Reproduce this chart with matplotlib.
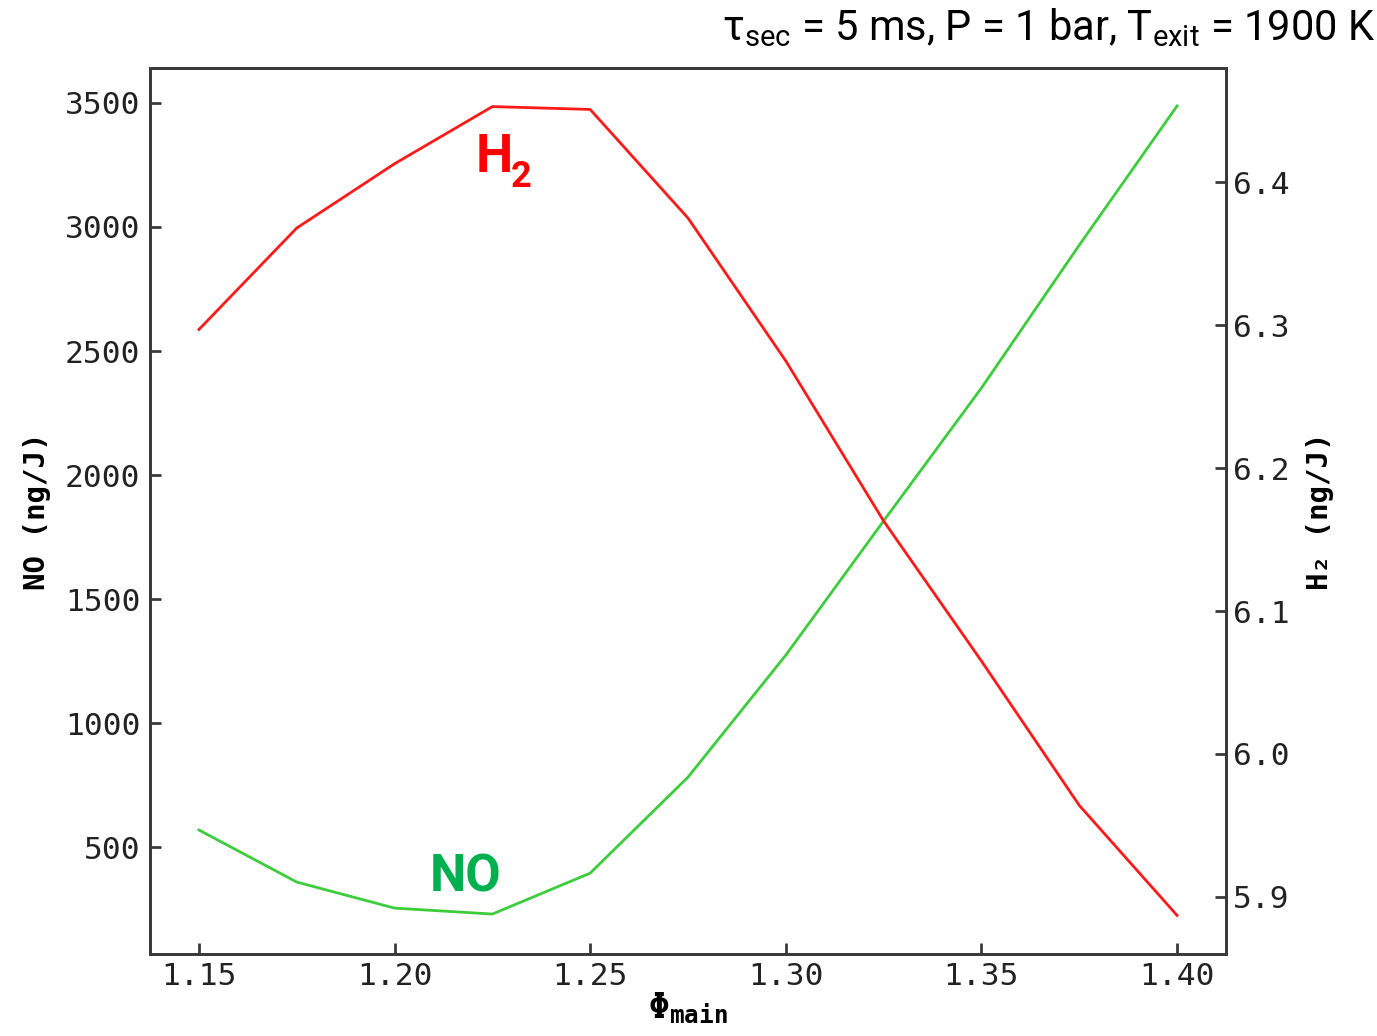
import matplotlib
matplotlib.use("Agg")
import matplotlib.pyplot as plt

# equivalence ratio of the main stage
phi_main = [1.15, 1.175, 1.20, 1.225, 1.25, 1.275, 1.30, 1.325, 1.35, 1.375, 1.40]
# NO emission index (ng/J), left axis
no_vals = [569, 359, 254, 230, 395, 782, 1274, 1815, 2351, 2927, 3488]
# H2 emission index (ng/J), right axis
h2_vals = [6.297, 6.368, 6.413, 6.453, 6.451, 6.375, 6.275, 6.163, 6.065, 5.964, 5.887]

x_ticks = [1.15, 1.20, 1.25, 1.30, 1.35, 1.40]
x_ticklabels = ["1.15", "1.20", "1.25", "1.30", "1.35", "1.40"]
no_ticks = [500, 1000, 1500, 2000, 2500, 3000, 3500]
h2_ticks = [5.9, 6.0, 6.1, 6.2, 6.3, 6.4]

plt.rcParams["mathtext.fontset"] = "custom"
plt.rcParams["mathtext.rm"] = "Roboto"
plt.rcParams["mathtext.it"] = "Roboto"
plt.rcParams["mathtext.bf"] = "Roboto:bold"
plt.rcParams["mathtext.tt"] = "DejaVu Sans Mono:bold"

mono = "DejaVu Sans Mono"
spine_col = "#3a3a3a"
red = "#ff1a1a"
green = "#3ccc3c"

fig = plt.figure(figsize=(13.77, 10.36), dpi=100)
ax = fig.add_axes([150 / 1377, 1 - 954 / 1036, (1226 - 150) / 1377, (954 - 68) / 1036])
ax2 = ax.twinx()

ax.plot(phi_main, no_vals, color=green, lw=2.0)
ax2.plot(phi_main, h2_vals, color=red, lw=2.0)

ax.set_xlim(1.1375, 1.4125)
ax.set_xticks(x_ticks)
ax.set_xticklabels(x_ticklabels)
ax.set_yticks(no_ticks)
ax2.set_yticks(h2_ticks)
ax.set_ylim(69, 3641)
ax2.set_ylim(5.860, 6.480)

for a in (ax, ax2):
    for s in a.spines.values():
        s.set_color(spine_col)
        s.set_linewidth(2.0)
    for lab in a.get_xticklabels() + a.get_yticklabels():
        lab.set_family(mono)
        lab.set_fontsize(22.5)
        lab.set_color("#222222")

ax.tick_params(axis="both", direction="in", length=8, width=2, color=spine_col)
ax.tick_params(axis="y", pad=7)
ax.tick_params(axis="x", pad=6)
ax2.tick_params(axis="y", direction="in", length=8, width=2, color=spine_col, pad=5)

ax.set_ylabel("NO (ng/J)", family=mono, fontsize=21, fontweight="bold", labelpad=10)
ax2.set_ylabel("H\u2082 (ng/J)", family=mono, fontsize=21, fontweight="bold", labelpad=12)
ax.set_xlabel("\u03a6$_{\\mathtt{main}}$", family=mono, fontsize=25, fontweight="bold", labelpad=0)

# in-plot series labels
ax2.text(1.2207, 6.407, "H", color="#ff0000", family="Roboto",
         fontweight="bold", fontsize=38, ha="left", va="baseline")
ax2.text(1.2297, 6.397, "2", color="#ff0000", family="Roboto",
         fontweight="bold", fontsize=26, ha="left", va="baseline")
ax.text(1.209, 319, "NO", color="#00b050", family="Roboto",
        fontweight="bold", fontsize=37, ha="left", va="baseline")

fig.text(0.999, 1 - 40 / 1036, "\u03c4$_{\\mathrm{sec}}$ = 5 ms, P = 1 bar, T$_{\\mathrm{exit}}$ = 1900 K",
         family="Roboto", fontsize=30, ha="right", va="baseline")

fig.savefig("out.png", dpi=100)
